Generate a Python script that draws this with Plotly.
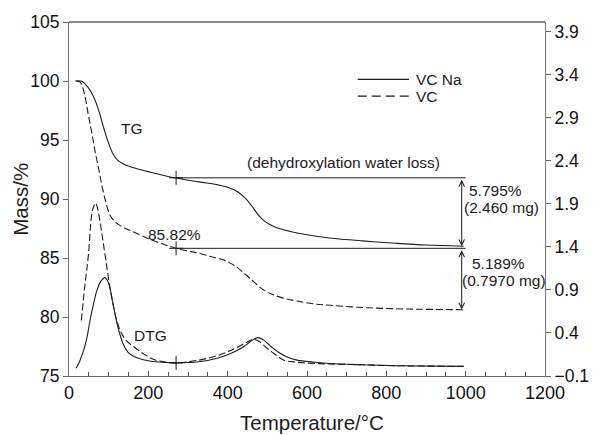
import plotly.graph_objects as go

# ---------------- data ----------------
# TG, VC Na sample (solid) : temperature (°C) -> mass (%)
tg_na_temp = [16, 32, 49, 61, 74, 86, 99, 111, 123, 144, 186, 227, 264,
              327, 376, 400, 426, 445, 460, 476, 492, 509, 530, 558, 600, 657, 740, 823, 900, 995]
tg_na_mass = [100.0, 99.97, 99.42, 98.72, 97.6, 96.2, 94.8, 93.82, 93.27, 92.85, 92.43, 92.09, 91.8,
              91.45, 91.2, 91.0, 90.6, 90.05, 89.45, 88.7, 88.15, 87.8, 87.5, 87.25,
              86.97, 86.7, 86.45, 86.25, 86.1, 86.0]

# TG, VC sample (dashed)
tg_vc_temp = [18, 28, 35, 41, 49, 57, 66, 74, 82, 90, 98, 104, 110, 120, 140, 160, 202, 235, 269,
              327, 370, 393, 420, 445, 467, 490, 510, 540, 575, 620, 657, 740, 823, 900, 995]
tg_vc_mass = [100.0, 99.9, 99.4, 98.6, 97.1, 95.7, 94.0, 92.7, 91.3, 90.1, 89.1, 88.6, 88.3,
              87.96, 87.54, 87.25, 86.6, 86.2, 85.83,
              85.4, 85.0, 84.8, 84.3, 83.6, 82.95, 82.3, 81.95, 81.6, 81.35, 81.1, 81.0,
              80.8, 80.7, 80.65, 80.62]

# DTG, VC Na sample (solid), right axis units
dtg_na_temp = [18, 28, 37, 45, 53, 62, 70, 80, 90, 97, 103, 110, 119.5, 128, 136, 148,
               160, 177, 200, 219, 268, 327, 376, 409, 440, 460, 476, 490, 510, 530, 550,
               575, 620, 657, 740, 823, 995]
dtg_na_val = [-0.01, 0.084, 0.20, 0.34, 0.545, 0.74, 0.89, 1.0, 1.044, 1.01, 0.93, 0.76,
              0.545, 0.39, 0.277, 0.18, 0.135, 0.104, 0.078, 0.065, 0.053, 0.065, 0.11,
              0.165, 0.24, 0.31, 0.346, 0.32, 0.24, 0.17, 0.12, 0.085, 0.06, 0.045, 0.03,
              0.02, 0.012]

# DTG, VC sample (dashed)
dtg_vc_temp = [31, 40, 49, 57, 62, 67, 72, 78, 86, 95, 103, 110, 120, 132, 144, 169, 194,
               219, 245, 268, 327, 376, 409, 440, 455, 467, 480, 500, 520, 542, 575, 620,
               657, 740, 823, 995]
dtg_vc_val = [0.545, 0.95, 1.31, 1.77, 1.87, 1.91, 1.85, 1.70, 1.46, 1.18, 0.93, 0.76,
              0.55, 0.40, 0.315, 0.22, 0.14, 0.084, 0.062, 0.053, 0.084, 0.14, 0.20, 0.27,
              0.31, 0.326, 0.30, 0.22, 0.15, 0.084, 0.06, 0.045, 0.04, 0.03, 0.02, 0.012]

# annotation values
mark_temp = 270            # temperature of the "+" marks
na_mark_mass = 91.795      # VC Na mass at the mark
na_loss = 5.795            # %
vc_mark_mass = 85.82       # VC mass at the mark
vc_loss = 5.189            # %
dtg_mark_val = 0.053
arrow_temp = 990
line_end_temp = 1000

series_names = ["VC Na", "VC"]

FONT = "Liberation Sans, Arial, Helvetica, sans-serif"
INK = "#1c1c1c"

# ---------------- figure ----------------
W, H = 601, 435
ML, MR, MT, MB = 69, 49, 18, 59
PW, PH = W - ML - MR, H - MT - MB


def pxx(px):
    return (px - ML) / PW


def pxy(py):
    return (H - MB - py) / PH


fig = go.Figure()

line_kw = dict(shape="spline", smoothing=1.0, width=1.1, color=INK)
fig.add_trace(go.Scatter(x=tg_na_temp, y=tg_na_mass, mode="lines", name=series_names[0],
                         line=dict(**line_kw), showlegend=False))
fig.add_trace(go.Scatter(x=tg_vc_temp, y=tg_vc_mass, mode="lines", name=series_names[1],
                         line=dict(**line_kw, dash="7px,3px"), showlegend=False))
fig.add_trace(go.Scatter(x=dtg_na_temp, y=dtg_na_val, mode="lines", yaxis="y2",
                         line=dict(**line_kw), showlegend=False))
fig.add_trace(go.Scatter(x=dtg_vc_temp, y=dtg_vc_val, mode="lines", yaxis="y2",
                         line=dict(**line_kw, dash="7px,3px"), showlegend=False))

# "+" marks
cross = dict(symbol="cross-thin", size=10, line=dict(width=1, color=INK))
fig.add_trace(go.Scatter(x=[mark_temp, mark_temp], y=[na_mark_mass, vc_mark_mass],
                         mode="markers", marker=cross, showlegend=False))
fig.add_trace(go.Scatter(x=[mark_temp], y=[dtg_mark_val], yaxis="y2",
                         mode="markers", marker=cross, showlegend=False))

shapes = []
# horizontal reference lines
for m in (na_mark_mass, vc_mark_mass):
    shapes.append(dict(type="line", xref="x", yref="y", x0=mark_temp, x1=line_end_temp,
                       y0=m, y1=m, line=dict(color=INK, width=1)))
# top frame line
shapes.append(dict(type="line", xref="paper", yref="paper", x0=0, x1=1, y0=1, y1=1,
                   line=dict(color="#111", width=1.2)))
# legend samples
shapes.append(dict(type="line", xref="paper", yref="paper", x0=pxx(362), x1=pxx(414),
                   y0=pxy(76), y1=pxy(76), line=dict(color=INK, width=1.2)))
shapes.append(dict(type="line", xref="paper", yref="paper", x0=pxx(362), x1=pxx(414),
                   y0=pxy(93), y1=pxy(93), line=dict(color=INK, width=1.2, dash="9px,5px")))

ann = []


def text(x, y, s, size=15.5, xanchor="center", **kw):
    d = dict(x=x, y=y, text=s, showarrow=False, xref="paper", yref="paper",
             xanchor=xanchor, yanchor="middle",
             font=dict(family=FONT, size=size, color=INK))
    d.update(kw)
    ann.append(d)


# double-headed arrows
for top, loss in ((na_mark_mass, na_loss), (vc_mark_mass, vc_loss)):
    ann.append(dict(x=arrow_temp, y=top - loss, ax=arrow_temp, ay=top, xref="x", yref="y",
                    axref="x", ayref="y", text=" ", font=dict(size=1), showarrow=True,
                    arrowhead=5, startarrowhead=5, arrowside="end+start", arrowsize=1.1,
                    arrowwidth=1, arrowcolor=INK, standoff=0, startstandoff=0))

text(pxx(133), pxy(126), "TG")
text(pxx(152), pxy(335), "DTG")
text(pxx(348), pxy(160), "(dehydroxylation water loss)")
text(pxx(176), pxy(233), f"{vc_mark_mass:.2f}%")
text(pxx(502), pxy(188), f"{na_loss:.3f}%")
text(pxx(508), pxy(206), "(2.460 mg)")
text(pxx(505), pxy(262), f"{vc_loss:.3f}%")
text(pxx(510), pxy(279), "(0.7970 mg)")
text(pxx(419), pxy(76), series_names[0], size=15.5, xanchor="left")
text(pxx(419), pxy(93), series_names[1], size=15.5, xanchor="left")
# axis titles
text(pxx(316), pxy(423), "Temperature/°C", size=20.5)
text(pxx(19), 0.5, "Mass/%", size=20.5, textangle=-90)

tickfont = dict(family=FONT, size=17.5, color="#111")
fig.update_layout(
    width=W, height=H,
    margin=dict(l=ML, r=MR, t=MT, b=MB, pad=0),
    paper_bgcolor="white", plot_bgcolor="white",
    showlegend=False,
    font=dict(family=FONT, color=INK),
    xaxis=dict(range=[0, 1200], tick0=0, dtick=200, ticks="inside", ticklen=5,
               tickcolor="#555", showline=True, linecolor="#666", linewidth=1,
               showgrid=False, zeroline=False, tickfont=dict(family=FONT, size=18, color="#111"),
               minor=dict(dtick=50, ticks="inside", ticklen=4, tickcolor="#555")),
    yaxis=dict(range=[75, 105], tick0=75, dtick=5, ticks="outside", ticklen=5,
               tickcolor="#666", showline=True, linecolor="#777", linewidth=1,
               showgrid=False, zeroline=False, tickfont=tickfont),
    yaxis2=dict(range=[-0.1, 4.015], overlaying="y", side="right", tick0=-0.1, dtick=0.5,
                ticks="outside", ticklen=5, tickcolor="#666", showline=True,
                linecolor="#777", linewidth=1, showgrid=False, zeroline=False,
                tickfont=tickfont, tickformat=".1f"),
    shapes=shapes,
    annotations=ann,
)

fig.write_html("out.html")
